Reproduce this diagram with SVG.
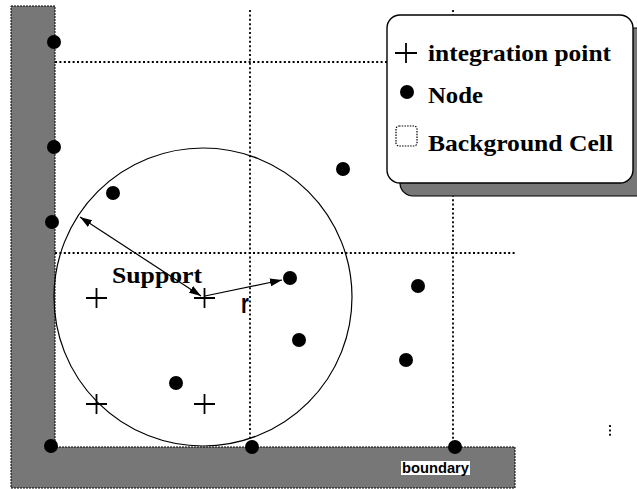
<svg xmlns="http://www.w3.org/2000/svg" width="637" height="489" viewBox="0 0 637 489">
<defs>
<style>
.grid{stroke:#000;stroke-width:1.8;stroke-dasharray:2 2.4;fill:none}
.bnd{fill:#777;stroke:#000;stroke-width:1;stroke-dasharray:2 1}
.node{fill:#000}
.ip{stroke:#000;stroke-width:1.8;fill:none}
.lg{font-family:"Liberation Serif",serif;font-weight:bold;font-size:23px;fill:#000}
.conn{stroke:#000;stroke-width:1.2;fill:none}
</style>
<marker id="ah" viewBox="0 0 12 8" refX="12" refY="4" markerWidth="12" markerHeight="8" markerUnits="userSpaceOnUse" orient="auto-start-reverse">
<path d="M0,0 L12,4 L0,8 Z" fill="#000"/>
</marker>
</defs>
<rect width="637" height="489" fill="#fff"/>
<g id="boundary">
<path class="bnd" d="M11,6 H55 V447 H515 V488 H11 Z"/>
<rect x="401" y="461" width="69" height="14" fill="#fff"/>
<text x="402" y="473" textLength="67" lengthAdjust="spacingAndGlyphs" font-family="Liberation Sans,sans-serif" font-weight="bold" font-size="14" fill="#000">boundary</text>
</g>
<g id="grid">
<line class="grid" x1="55" y1="62" x2="390" y2="62"/>
<line class="grid" x1="55" y1="253" x2="515" y2="253"/>
<line class="grid" x1="250" y1="10" x2="250" y2="447"/>
<line class="grid" x1="453" y1="10" x2="453" y2="447"/>
<line class="grid" x1="610" y1="425" x2="610" y2="436" stroke-width="1"/>
</g>
<g id="support-circle">
<circle cx="203" cy="297" r="149" fill="none" stroke="#000" stroke-width="1.2"/>
</g>
<g id="connectors">
<line class="conn" x1="201" y1="296" x2="80" y2="217" marker-start="url(#ah)" marker-end="url(#ah)"/>
<line class="conn" x1="205" y1="296" x2="282" y2="280" marker-end="url(#ah)"/>
</g>
<g id="nodes">
<circle class="node" cx="54" cy="42" r="7"/>
<circle class="node" cx="54" cy="147" r="7"/>
<circle class="node" cx="52" cy="222" r="7"/>
<circle class="node" cx="113" cy="193" r="7"/>
<circle class="node" cx="343" cy="169" r="7"/>
<circle class="node" cx="290" cy="278" r="7"/>
<circle class="node" cx="418" cy="286" r="7"/>
<circle class="node" cx="299" cy="340" r="7"/>
<circle class="node" cx="406" cy="360" r="7"/>
<circle class="node" cx="176" cy="383" r="7"/>
<circle class="node" cx="51" cy="446" r="7"/>
<circle class="node" cx="252" cy="447" r="7"/>
<circle class="node" cx="455" cy="447" r="7"/>
</g>
<g id="integration-points">
<path class="ip" d="M86,298 H107 M96.5,288 V308"/>
<path class="ip" d="M194,298 H215 M204.5,288 V308"/>
<path class="ip" d="M86,404 H107 M96.5,394 V414"/>
<path class="ip" d="M194,404 H215 M204.5,394 V414"/>
</g>
<g id="labels">
<text x="112" y="283" textLength="90" lengthAdjust="spacingAndGlyphs" font-family="Liberation Serif,serif" font-weight="bold" font-size="23" fill="#000">Support</text>
<text transform="translate(241,313) scale(0.75,1)" font-family="Liberation Sans,sans-serif" font-weight="bold" font-size="27" fill="#000">r</text>
</g>
<g id="legend">
<rect x="400" y="28" width="250" height="168" rx="13" fill="#777" stroke="#000" stroke-width="1.2"/>
<rect x="387" y="15" width="246" height="168" rx="13" fill="#fff" stroke="#000" stroke-width="1.4"/>
<path class="ip" d="M395,53 H417 M406,43 V63"/>
<text class="lg" x="428" y="61" textLength="183" lengthAdjust="spacingAndGlyphs">integration point</text>
<circle class="node" cx="407" cy="92" r="7"/>
<text class="lg" x="428" y="103" textLength="55" lengthAdjust="spacingAndGlyphs">Node</text>
<rect x="396" y="126" width="21" height="20" rx="3" fill="none" stroke="#000" stroke-width="1.2" stroke-dasharray="1.5 1.2"/>
<text class="lg" x="428" y="151" textLength="185" lengthAdjust="spacingAndGlyphs">Background Cell</text>
</g>
</svg>
